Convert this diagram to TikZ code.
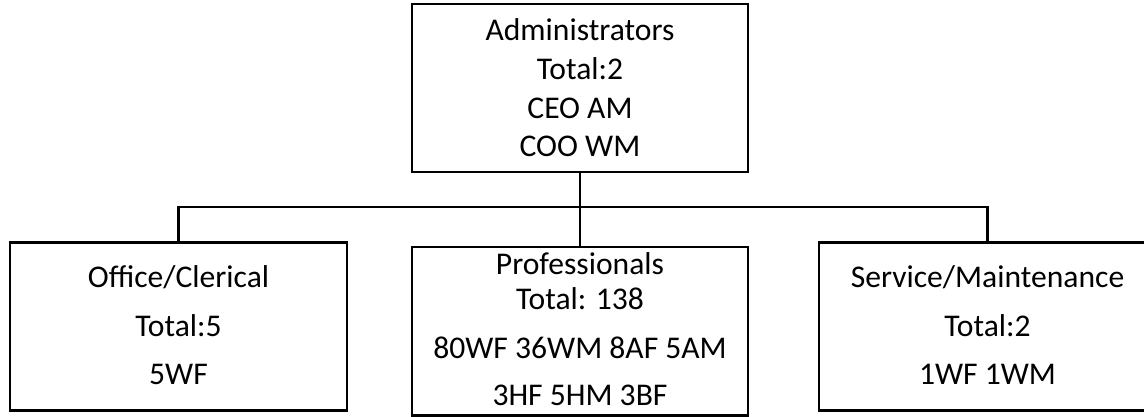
\documentclass[tikz,border=0pt]{standalone}
\usepackage{fontspec}
\setmainfont{Carlito}
\begin{document}
\begin{tikzpicture}[x=1pt,y=-1pt,
  box/.style={draw, line width=2.8pt, rectangle, inner sep=0pt},
  txt/.style={anchor=base, inner sep=0pt, font=\fontsize{31.6}{38}\selectfont},
  conn/.style={line width=2.8pt}]
\useasboundingbox (0,0) rectangle (1144,417);
\clip (0,0) rectangle (1144,417);
\node[box, minimum width=336pt, minimum height=168pt] (adm) at (580,88) {};
\node[box, minimum width=337pt, minimum height=168pt] (off) at (178.5,326.5) {};
\node[box, minimum width=336pt, minimum height=168.5pt] (pro) at (580,331.25) {};
\node[box, minimum width=337pt, minimum height=168pt] (srv) at (987.5,326.5) {};
\coordinate (bus) at (580,207);
\draw[conn] (adm.south) -- (adm.south |- bus);
\draw[conn] (off.north) -- (off.north |- bus) -- (srv.north |- bus) -- (srv.north);
\draw[conn] (pro.north) -- (pro.north |- bus);
% top texts
\node[txt] (a1) at (580,40.7) {Administrators};
\node[txt] (a2) at (580,80) {Total:2};
\node[txt] (a3) at (580,119) {CEO AM};
\node[txt] (a4) at (580,157) {COO WM};
% left
\node[txt] (o1) at (178.5,287.7) {Office/Clerical};
\node[txt] (o2) at (178.5,336.7) {Total:5};
\node[txt] (o3) at (178.5,384.3) {5WF};
% middle
\node[txt] (p1) at (580,274.3) {Professionals};
\node[txt] (p2) at (580,309.3) {Total: 138};
\node[txt] (p3) at (580,358.3) {80WF 36WM 8AF 5AM};
\node[txt] (p4) at (580,405) {3HF 5HM 3BF};
% right
\node[txt] (s1) at (987.5,287.7) {Service/Maintenance};
\node[txt] (s2) at (987.5,336.7) {Total:2};
\node[txt] (s3) at (987.5,384.3) {1WF 1WM};
\end{tikzpicture}
\end{document}
